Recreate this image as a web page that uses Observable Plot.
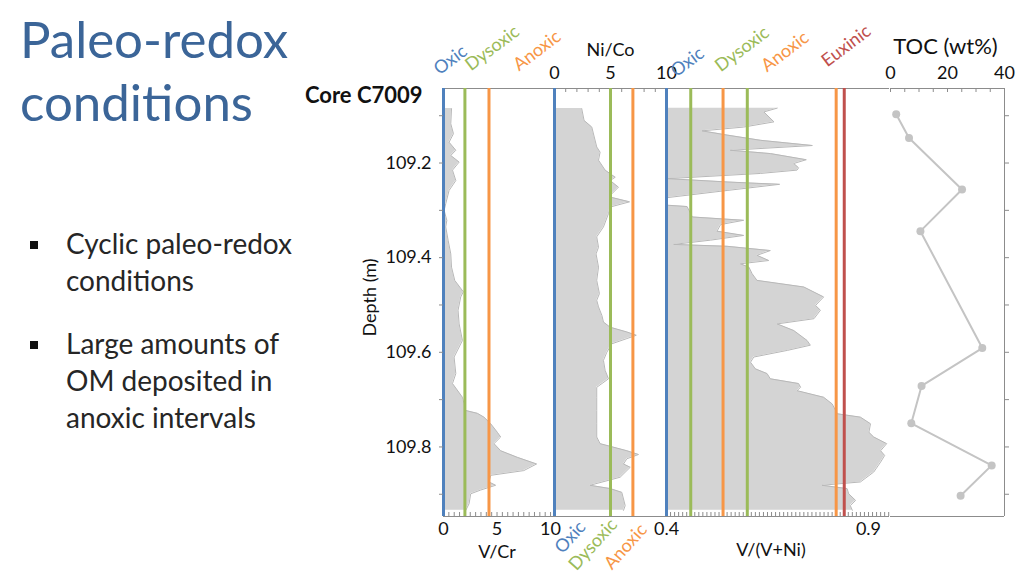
<!DOCTYPE html>
<html>
<head>
<meta charset="utf-8">
<script src="https://cdn.jsdelivr.net/npm/d3@7"></script>
<script src="https://cdn.jsdelivr.net/npm/@observablehq/plot@0.6"></script>
<style>
  html, body { margin: 0; padding: 0; background: #fff; }
  #wrap { position: relative; width: 1024px; height: 576px; overflow: hidden; font-family: Lato, "Open Sans", sans-serif; color: #1a1a1a; }
  #wrap svg { position: absolute; left: 0; top: 0; }
  .title { position: absolute; left: 20px; top: 7px; font-size: 51px; line-height: 63px; color: #3b6598; white-space: nowrap; }
  .bullets { position: absolute; left: 66px; font-size: 28px; line-height: 37px; color: #262626; white-space: nowrap; }
  .sq { position: absolute; left: 30px; width: 8px; height: 8px; background: #111; }
  .core { position: absolute; left: 305px; top: 82px; font-size: 22px; line-height: 26px; font-weight: bold; color: #111; white-space: nowrap; }
</style>
</head>
<body>
<div id="wrap">
  <div class="title">Paleo-redox<br>conditions</div>
  <div class="sq" style="top:241px"></div>
  <div class="bullets" style="top:225px">Cyclic paleo-redox<br>conditions</div>
  <div class="sq" style="top:341px"></div>
  <div class="bullets" style="top:325px">Large amounts of<br>OM deposited in<br>anoxic intervals</div>
  <div class="core">Core C7009</div>
</div>
<script>
// ---------------- data ----------------
const vcrDepth = [109.085,109.117,109.138,109.156,109.173,109.184,109.198,109.215,109.237,109.258,109.286,109.300,109.321,109.335,109.363,109.392,109.420,109.448,109.472,109.483,109.511,109.540,109.575,109.610,109.645,109.666,109.695,109.723,109.729,109.737,109.751,109.769,109.779,109.793,109.808,109.822,109.836,109.850,109.860,109.874,109.881,109.891,109.899,109.920,109.934];
const vcrValue = [0.75,0.68,0.93,0.52,1.15,0.68,1.46,0.84,1.15,0.52,0.21,0.06,0.31,0.21,0.43,0.68,0.75,1.05,1.85,1.61,1.36,1.46,1.77,0.99,1.15,0.84,1.77,2.08,3.17,3.78,4.41,5.03,5.34,4.72,5.34,6.9,8.7,7.5,4.41,4.25,4.87,3.48,2.54,2.39,2.08];

const nicoDepth = [109.085,109.110,109.124,109.166,109.177,109.194,109.215,109.230,109.237,109.251,109.265,109.272,109.282,109.293,109.307,109.335,109.356,109.378,109.392,109.420,109.448,109.476,109.490,109.504,109.522,109.536,109.547,109.557,109.564,109.571,109.582,109.600,109.617,109.638,109.656,109.674,109.695,109.723,109.751,109.779,109.793,109.808,109.816,109.825,109.836,109.843,109.864,109.881,109.888,109.896,109.910,109.924,109.934];
const nicoValue = [2.43,2.64,3.33,3.77,4.07,3.93,4.52,5.42,4.97,5.71,5.12,4.97,6.70,4.97,4.82,4.37,3.77,3.93,3.71,3.93,3.77,4.01,3.77,3.93,4.23,4.37,4.97,6.46,7.30,6.46,5.12,4.67,4.37,4.52,4.82,3.77,3.77,3.77,3.77,3.77,4.07,6.46,7.50,6.46,6.16,6.76,5.86,3.17,4.97,6.01,6.16,6.31,6.16];

const vvniDepth = [109.084,109.092,109.113,109.124,109.132,109.141,109.152,109.163,109.173,109.180,109.193,109.201,109.210,109.215,109.222,109.233,109.240,109.245,109.258,109.273,109.275,109.289,109.292,109.314,109.321,109.330,109.344,109.353,109.363,109.372,109.376,109.385,109.395,109.406,109.413,109.420,109.434,109.448,109.462,109.483,109.501,109.511,109.529,109.540,109.554,109.575,109.585,109.596,109.610,109.621,109.635,109.645,109.656,109.666,109.674,109.681,109.695,109.709,109.730,109.737,109.751,109.769,109.779,109.793,109.808,109.818,109.832,109.853,109.874,109.881,109.888,109.899,109.913,109.924,109.934];
const vvniValue = [0.674,0.641,0.666,0.591,0.488,0.550,0.633,0.761,0.558,0.657,0.746,0.715,0.727,0.723,0.633,0.403,0.550,0.680,0.550,0.403,0.400,0.400,0.451,0.464,0.591,0.534,0.525,0.591,0.509,0.418,0.550,0.657,0.624,0.653,0.583,0.604,0.612,0.624,0.740,0.789,0.769,0.781,0.765,0.674,0.715,0.748,0.756,0.699,0.616,0.608,0.620,0.649,0.657,0.727,0.732,0.723,0.789,0.810,0.823,0.880,0.905,0.901,0.913,0.945,0.930,0.940,0.930,0.913,0.880,0.785,0.847,0.851,0.868,0.855,0.860];

const tocDepth = [109.097,109.147,109.256,109.344,109.591,109.671,109.750,109.839,109.903];
const tocValue = [2.0,6.5,25.1,10.5,32.2,10.9,7.3,35.5,24.6];

const BLUE = "#4f81bd", GREEN = "#9bbb59", ORANGE = "#f79646", RED = "#c0504d";
const vcrThresholds  = [{label:"Oxic", value:0, color:BLUE}, {label:"Dysoxic", value:2, color:GREEN}, {label:"Anoxic", value:4.25, color:ORANGE}];
const nicoThresholds = [{label:"Oxic", value:0, color:BLUE}, {label:"Dysoxic", value:5, color:GREEN}, {label:"Anoxic", value:7, color:ORANGE}];
const vvniThresholds = [{label:"Oxic", value:0.4, color:BLUE}, {label:"Dysoxic", value:0.46, color:GREEN}, {label:"Anoxic", value:0.54, color:ORANGE}, {label:"", value:0.6, color:GREEN}, {label:"", value:0.82, color:ORANGE}, {label:"Euxinic", value:0.84, color:RED}];

const depthTicks = [109.2, 109.4, 109.6, 109.8];
const depthMinor = [109.1, 109.2, 109.3, 109.4, 109.5, 109.6, 109.7, 109.8, 109.9];
const depthTitle = [{label: "Depth (m)", depth: 109.484}];
const vcrTicks = [0, 5, 10];
const nicoTicks = [0, 5, 10];
const vvniTicks = [0.4, 0.9];
const tocTicks = [0, 20, 40];

// ---------------- build ----------------
const yDomain = [109.0425, 109.947];
const FH = 428; // frame height in px (88 -> 516)
const FONT = "Lato, 'Open Sans', sans-serif";
const AX = "#8c8c8c";
const PAREA = "#d4d4d4", PEDGE = "#b8b8b8";
const FS = 18;

const recs = (ds, vs) => ds.map((d, i) => ({depth: d, v: vs[i]}));
const vcr = recs(vcrDepth, vcrValue);
const nico = recs(nicoDepth, nicoValue);
const vvni = recs(vvniDepth, vvniValue);
const toc = recs(tocDepth, tocValue);

function panel(left, right, xDomain, marks, yAxisNull = true) {
  const svg = Plot.plot({
    width: 1024, height: 576,
    marginLeft: left, marginRight: right, marginTop: 88, marginBottom: 60,
    x: {domain: xDomain},
    y: {domain: yDomain, reverse: true, ...(yAxisNull ? {axis: null} : {})},
    style: {background: "transparent", overflow: "visible", fontFamily: FONT, fontSize: FS + "px", color: "#111"},
    marks
  });
  document.getElementById("wrap").appendChild(svg);
}

const thresholdRules = ts => ts.map(t => Plot.ruleX([t.value], {stroke: t.color, strokeWidth: 3}));
const zoneText = (t, anchor, dx, dy, rotate) => Plot.text([t], {
  x: d => d.value, text: d => d.label, frameAnchor: anchor, dx, dy, rotate,
  textAnchor: "start", lineAnchor: "bottom", fill: t.color, fontSize: 18
});
const profile = (data, base) => [
  Plot.areaX(data, {y: "depth", x1: base, x2: "v", fill: PAREA}),
  Plot.lineX(data, {y: "depth", x: "v", stroke: PEDGE, strokeWidth: 1})
];
const ticksTopIn = vals => Plot.ruleX(vals, {insetBottom: FH - 4, stroke: AX});
const ticksBottomIn = vals => Plot.ruleX(vals, {insetTop: FH - 4, stroke: AX});

// Panel A: V/Cr
panel(443, 1024 - 554, [0, 10.37], [
  ...profile(vcr, 0),
  Plot.frame({stroke: AX}),
  ticksBottomIn(d3.range(0, 10.4, 0.5)),
  ...thresholdRules(vcrThresholds),
  Plot.axisY(depthMinor, {anchor: "left", tickSize: 4, stroke: AX, tickFormat: () => "", label: null}),
  Plot.axisY(depthTicks, {anchor: "left", tickSize: 0, tickPadding: 12, tickFormat: ".1f", fontSize: FS, fill: "#111", label: null}),
  Plot.text(depthTitle, {y: "depth", text: "label", frameAnchor: "left", dx: -73, rotate: -90, textAnchor: "middle", fontSize: FS, fill: "#111"}),
  Plot.axisX(vcrTicks, {anchor: "bottom", tickSize: 0, tickPadding: 6, fontSize: FS, fill: "#111", label: null}),
  Plot.text(["V/Cr"], {frameAnchor: "bottom", dx: -2, dy: 41, fontSize: FS, fill: "#111"}),
  zoneText(vcrThresholds[0], "top", -4, -13, -37),
  zoneText(vcrThresholds[1], "top", 6, -17, -37),
  zoneText(vcrThresholds[2], "top", 30, -17, -37)
], false);

// Panel B: Ni/Co
panel(554, 1024 - 666, [0, 10], [
  ...profile(nico, 0),
  Plot.frame({stroke: AX}),
  ticksTopIn(d3.range(0, 10.01, 1)),
  ...thresholdRules(nicoThresholds),
  Plot.axisX(nicoTicks, {anchor: "top", tickSize: 0, tickPadding: 10, fontSize: FS, fill: "#111", label: null}),
  Plot.text(["Ni/Co"], {frameAnchor: "top", dy: -45, fontSize: FS, fill: "#111"}),
  zoneText(nicoThresholds[0], "bottom", 8, 38, -48),
  zoneText(nicoThresholds[1], "bottom", -34, 55, -48),
  zoneText(nicoThresholds[2], "bottom", -21, 54, -48)
]);

// Panel C: V/(V+Ni)
panel(666, 1024 - 889, [0.4, 0.952], [
  ...profile(vvni, 0.4),
  Plot.ruleY(yDomain, {stroke: AX}),
  ticksBottomIn(d3.range(0.4, 0.952, 0.01)),
  ...thresholdRules(vvniThresholds),
  Plot.axisX(vvniTicks, {anchor: "bottom", tickSize: 0, tickPadding: 6, tickFormat: ".1f", fontSize: FS, fill: "#111", label: null}),
  Plot.text(["V/(V+Ni)"], {frameAnchor: "bottom", dx: -7, dy: 39, fontSize: FS, fill: "#111"}),
  zoneText(vvniThresholds[0], "top", 10, -11, -37),
  zoneText(vvniThresholds[1], "top", 30, -16, -37),
  zoneText(vvniThresholds[2], "top", 44, -16, -37),
  zoneText(vvniThresholds[5], "top", -17, -21, -37)
]);

// Panel D: TOC
panel(890, 1024 - 1004, [0, 40], [
  Plot.ruleY(yDomain, {stroke: AX}),
  Plot.ruleX([40], {stroke: AX}),
  ticksTopIn(d3.range(0, 40.1, 5)),
  Plot.axisY(depthMinor, {anchor: "right", tickSize: 4, stroke: AX, tickFormat: () => "", label: null}),
  Plot.line(toc, {x: "v", y: "depth", stroke: "#c4c4c4", strokeWidth: 2}),
  Plot.dot(toc, {x: "v", y: "depth", r: 4, fill: "#c4c4c4", stroke: "none"}),
  Plot.axisX(tocTicks, {anchor: "top", tickSize: 0, tickPadding: 10, fontSize: FS, fill: "#111", label: null}),
  Plot.text(["TOC (wt%)"], {frameAnchor: "top", dx: -2, dy: -50, fontSize: 22, fill: "#111"})
], false);
</script>
</body>
</html>
